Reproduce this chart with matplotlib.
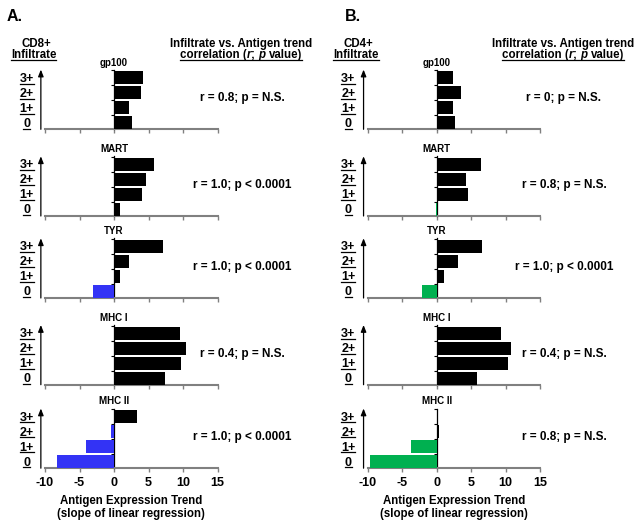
import numpy as np
import matplotlib.pyplot as plt
from matplotlib.lines import Line2D

plt.rcParams['font.family'] = ['Liberation Sans', 'DejaVu Sans']
plt.rcParams['font.weight'] = 'bold'
plt.rcParams['axes.unicode_minus'] = False

W, H = 642, 526

# ---------------- data ----------------
levels = ['0', '1+', '2+', '3+']
antigens = ['gp100', 'MART', 'TYR', 'MHC I', 'MHC II']

# slope values for infiltrate 0, 1+, 2+, 3+
cd8_gp100 = [2.6, 2.2, 3.9, 4.2]
cd8_mart = [0.85, 4.1, 4.7, 5.8]
cd8_tyr = [-3.0, 0.85, 2.2, 7.15]
cd8_mhc1 = [7.4, 9.75, 10.5, 9.55]
cd8_mhc2 = [-8.2, -4.1, -0.45, 3.4]

cd4_gp100 = [2.6, 2.3, 3.5, 2.4]
cd4_mart = [-0.1, 4.6, 4.3, 6.4]
cd4_tyr = [-2.2, 1.1, 3.1, 6.6]
cd4_mhc1 = [5.8, 10.4, 10.8, 9.3]
cd4_mhc2 = [-9.7, -3.7, 0.4, 0.0]

cd8_corr = ['r = 0.8; p = N.S.', 'r = 1.0; p < 0.0001', 'r = 1.0; p < 0.0001',
            'r = 0.4; p = N.S.', 'r = 1.0; p < 0.0001']
cd4_corr = ['r = 0; p = N.S.', 'r = 0.8; p = N.S.', 'r = 1.0; p < 0.0001',
            'r = 0.4; p = N.S.', 'r = 0.8; p = N.S.']

xticks = [-10, -5, 0, 5, 10, 15]

panels = [
    dict(letter='A.', cell='CD8+', neg='#3333f5',
         vals=[cd8_gp100, cd8_mart, cd8_tyr, cd8_mhc1, cd8_mhc2], corr=cd8_corr),
    dict(letter='B.', cell='CD4+', neg='#00b050',
         vals=[cd4_gp100, cd4_mart, cd4_tyr, cd4_mhc1, cd4_mhc2], corr=cd4_corr),
]

# ---------------- layout (pixels, from top-left) ----------------
panel_left = [38.1, 360.8]
row_bottom = [129.3, 216.0, 298.0, 384.7, 468.2]
ax_w = 26.5 * 6.9
ax_h = 3.98 * 15
letter_x = [6.7, 345.0]
cell_x = [34.5, 357.0]
level_x = [26.7, 348.3]
right_x = [241.0, 563.0]
corr_x = [242.0, 564.0]

fig = plt.figure(figsize=(W / 100, H / 100), dpi=100)
underlined = []


def ftext(x, y, s, size, ha='center', style='normal'):
    return fig.text(x / W, 1 - y / H, s, fontsize=size, ha=ha, va='baseline',
                    style=style, fontweight='bold')


def run_text(cx, y, runs, size):
    renderer = fig.canvas.get_renderer()

    def width(s, style):
        t = fig.text(0, 0, s + '|', fontsize=size, fontweight='bold', style=style)
        w1 = t.get_window_extent(renderer).width
        t.set_text('|')
        w2 = t.get_window_extent(renderer).width
        t.remove()
        return w1 - w2

    widths = [width(s, st) for s, st in runs]
    x = cx - sum(widths) / 2
    group = []
    for (s, st), w in zip(runs, widths):
        group.append(ftext(x, y, s, size, ha='left', style=st))
        x += w
    return group


for p, pan in enumerate(panels):
    ftext(letter_x[p], 20.7, pan['letter'], 11.5, ha='left')
    ftext(cell_x[p] + 1.5, 46.7, pan['cell'], 8.3)
    underlined.append([ftext(cell_x[p] - 1, 58.3, 'Infiltrate', 8.3)])
    ftext(right_x[p], 46.7, 'Infiltrate vs. Antigen trend', 8.3)
    underlined.append(run_text(right_x[p], 58.3,
                               [('correlation (', 'normal'), ('r', 'italic'),
                                ('; ', 'normal'), ('p ', 'italic'),
                                ('value)', 'normal')], 8.3))

    for r, name in enumerate(antigens):
        ax = fig.add_axes([panel_left[p] / W, 1 - row_bottom[r] / H, ax_w / W, ax_h / H])
        vals = np.array(pan['vals'][r])
        ypos = np.arange(len(levels))
        cols = [pan['neg'] if v < 0 else 'black' for v in vals]
        ax.barh(ypos, vals, height=0.85, color=cols, zorder=3)
        ax.set_xlim(-11, 15.5)
        ax.set_ylim(-0.43, 3.55)
        ax.patch.set_visible(False)
        for s in ['top', 'right']:
            ax.spines[s].set_visible(False)
        ax.spines['left'].set_position(('data', 0))
        ax.spines['left'].set_linewidth(0.9)
        ax.spines['bottom'].set_bounds(-10, 15)
        ax.spines['bottom'].set_color('#808080')
        ax.spines['bottom'].set_linewidth(1.5)
        ax.set_xticks(xticks)
        ax.tick_params(axis='x', length=3, width=1, color='#808080', pad=3.2,
                       labelsize=9)
        if r < len(antigens) - 1:
            ax.tick_params(axis='x', labelbottom=False)
        ax.set_yticks(ypos + 0.5)
        ax.set_yticklabels([])
        ax.tick_params(axis='y', length=2.2, width=0.8)

        ax.annotate('', xy=(-10.6, 3.55), xytext=(-10.6, -0.43),
                    arrowprops=dict(arrowstyle='-|>,head_length=0.5,head_width=0.2',
                                    lw=0.9, color='black', shrinkA=0, shrinkB=0,
                                    mutation_scale=8),
                    annotation_clip=False)
        ax.annotate(name, xy=(0, 1), xycoords=('data', 'axes fraction'),
                    xytext=(0, 1.5), textcoords='offset points', ha='center',
                    va='bottom', fontsize=7, fontweight='bold')

        for i, lev in enumerate(levels):
            py = ax.transData.transform((0, i))[1]
            underlined.append([ftext(level_x[p], H - py + 3.9, lev, 9)])

        py = ax.transData.transform((0, 1.5))[1]
        ftext(corr_x[p], H - py + 1, pan['corr'][r], 8.5)

    last = fig.axes[-1]
    lx = last.transData.transform((2.5, 0))[0]
    ftext(lx, 504, 'Antigen Expression Trend', 8.3)
    ftext(lx, 517, '(slope of linear regression)', 8.3)

# underlines below text baselines
renderer = fig.canvas.get_renderer()
for group in underlined:
    boxes = [t.get_window_extent(renderer) for t in group]
    x0 = min(b.x0 for b in boxes)
    x1 = max(b.x1 for b in boxes)
    yb = group[0].get_position()[1] * H - 1.8
    fig.add_artist(Line2D([x0 / W, x1 / W], [yb / H, yb / H], lw=0.9,
                          color='black', transform=fig.transFigure))

fig.savefig('out.png', dpi=100)
